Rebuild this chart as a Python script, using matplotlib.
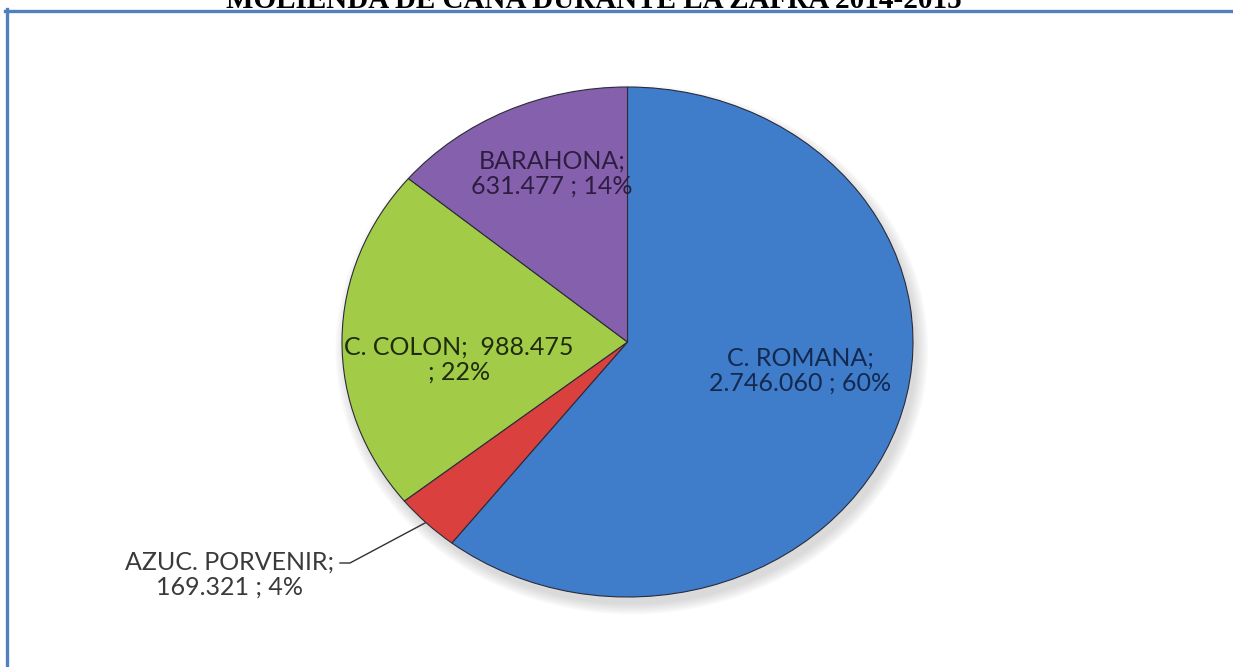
import matplotlib
matplotlib.use("Agg")
import matplotlib.pyplot as plt
from matplotlib.lines import Line2D
from matplotlib.patches import Ellipse

# --- datos ---
ingenios = ['C. ROMANA', 'AZUC. PORVENIR', 'C. COLON', 'BARAHONA']
toneladas = [2746060, 169321, 988475, 631477]
porcentajes = [60, 4, 22, 14]
colores = ['#3f7dca', '#d9403e', '#a2cb48', '#8561ad']
color_texto = ['#13294f', '#3a3a3a', '#1f2b0c', '#2d1d40']

W, H = 1233, 667
fig = plt.figure(figsize=(W / 100, H / 100), dpi=100)

# centro de la torta y radios en pixeles
cx, cy, rx, ry = 627.5, 342, 285.5, 255
ax = fig.add_axes([(cx - rx) / W, (H - cy - ry) / H, 2 * rx / W, 2 * ry / H])

# sombra suave
for k in range(6):
    ax.add_patch(Ellipse((0.015, -0.03), 2.0 + 0.015 * k, 2.0 + 0.015 * k,
                         color='#808080', alpha=0.05, lw=0, zorder=0,
                         clip_on=False))

wedges, _ = ax.pie(toneladas, colors=colores, startangle=90, counterclock=False,
                   wedgeprops=dict(edgecolor='#2b2b3a', linewidth=0.8))
for w in wedges:
    w.set_zorder(2)
    w.set_clip_on(False)
ax.set_aspect('auto')
ax.set_xlim(-1, 1)
ax.set_ylim(-1, 1)
ax.axis('off')


def fmt(v):
    return f"{v:,}".replace(',', '.')


etiquetas = [
    f"{ingenios[0]};\n{fmt(toneladas[0])} ; {porcentajes[0]}%",
    f"{ingenios[1]};\n{fmt(toneladas[1])} ; {porcentajes[1]}%",
    f"{ingenios[2]};  {fmt(toneladas[2])}\n; {porcentajes[2]}%",
    f"{ingenios[3]};\n{fmt(toneladas[3])} ; {porcentajes[3]}%",
]
# posiciones de las etiquetas (pixeles)
pos_px = [(800, 371), (230, 575), (459, 360), (552, 174)]

for txt, (px, py), c in zip(etiquetas, pos_px, color_texto):
    ax.text((px - cx) / rx, (cy - py) / ry, txt, ha='center', va='center',
            fontsize=18, family='Lato', color=c, linespacing=1.1,
            zorder=5, clip_on=False)

# linea guia de AZUC. PORVENIR
lx = [(340 - cx) / rx, (350 - cx) / rx, (425 - cx) / rx]
ly = [(cy - 563) / ry, (cy - 563) / ry, (cy - 523) / ry]
ax.plot(lx, ly, color='#303030', lw=1.0, clip_on=False, zorder=5)

# marco azul
fig.add_artist(Line2D([6.5 / W, 6.5 / W], [0, 1 - 9 / H], color='#5080c0', lw=2.4))
fig.add_artist(Line2D([5 / W, 1], [1 - 10.5 / H, 1 - 10.5 / H], color='#5080c0', lw=2.4))

# titulo (cortado en la parte superior, como en el original)
fig.text(594 / W, 1 - 8 / H, 'MOLIENDA DE CAÑA DURANTE LA ZAFRA 2014-2015',
         ha='center', va='baseline', fontsize=21, fontweight='bold',
         family='Liberation Serif', color='black')

fig.savefig('out.png', dpi=100, facecolor='white')
